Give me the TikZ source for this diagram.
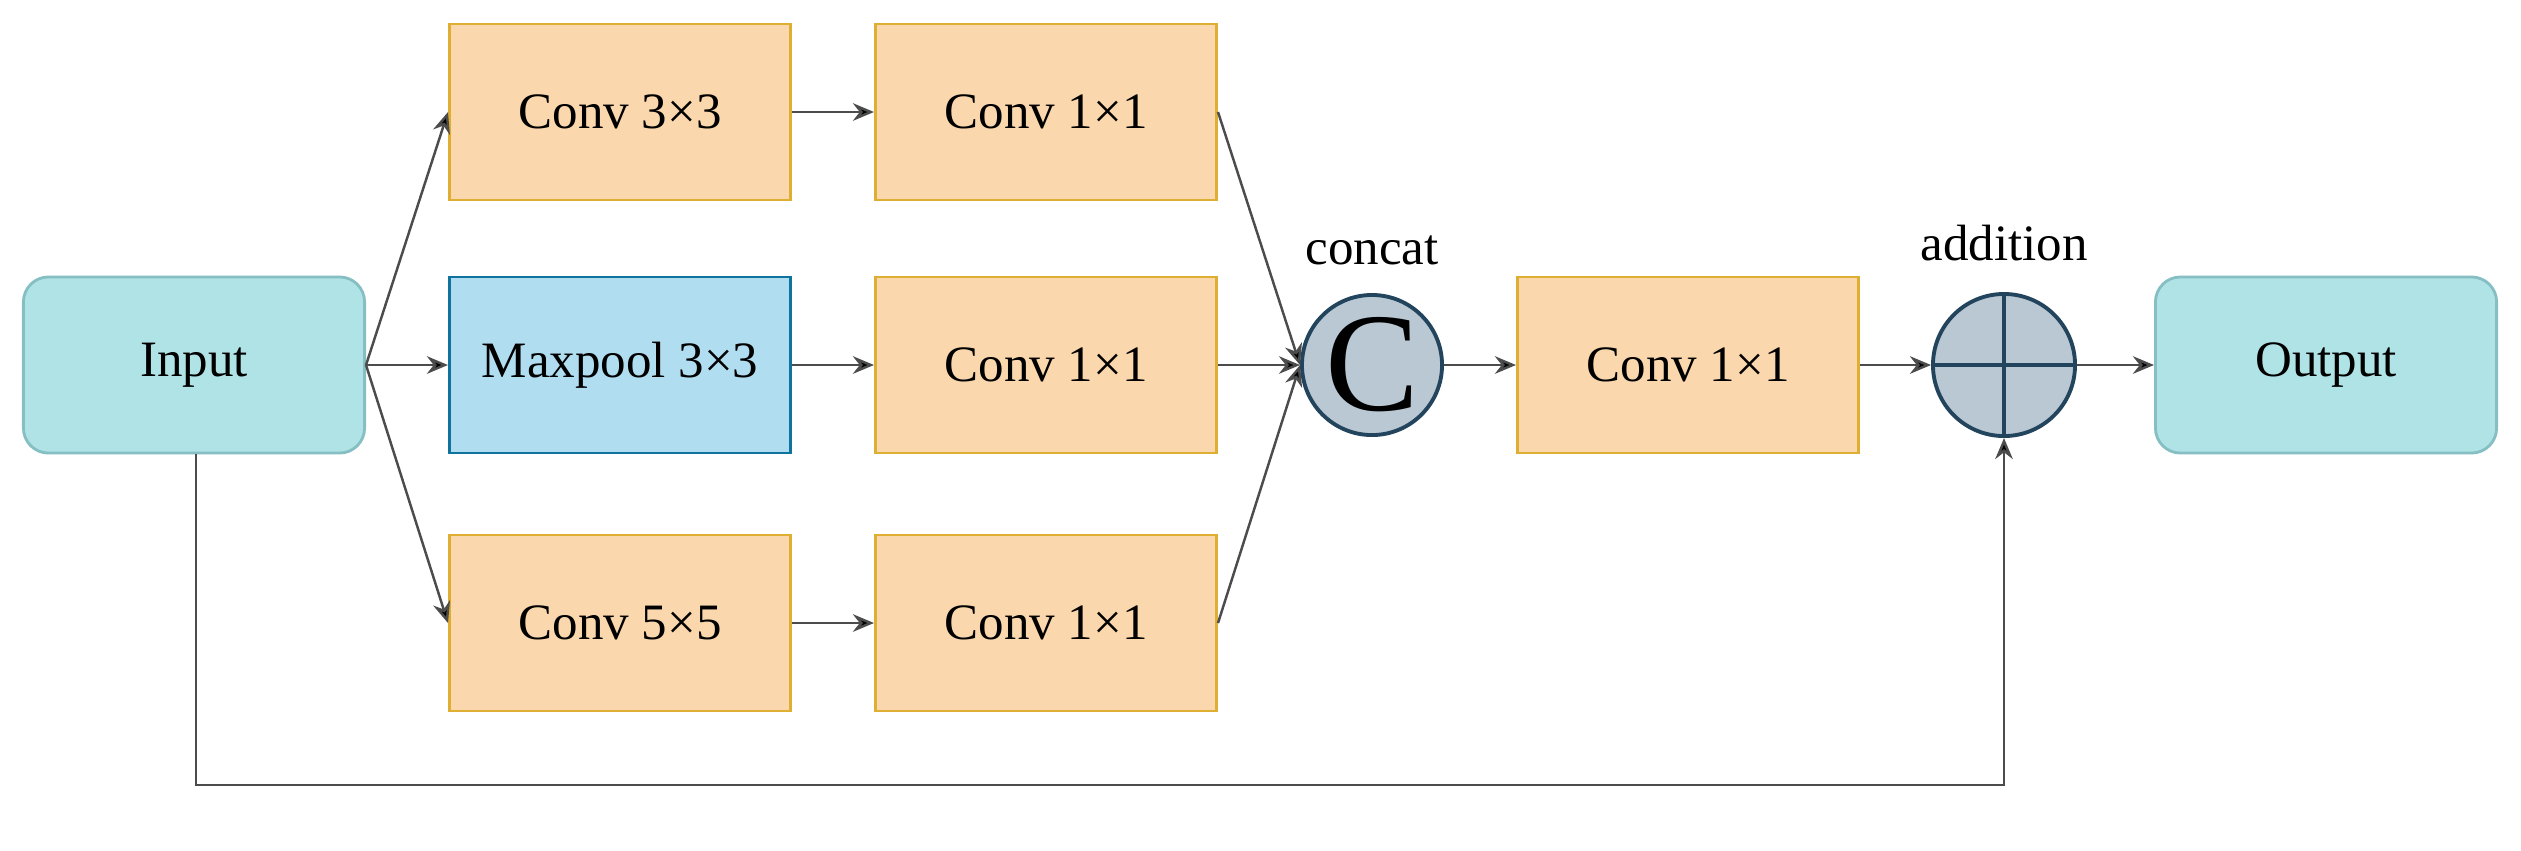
\documentclass[tikz,border=0pt]{standalone}
\usepackage{fontspec}
\setmainfont{Liberation Serif}
\usetikzlibrary{arrows.meta}
\definecolor{ofill}{HTML}{FAD7AC}\definecolor{odraw}{HTML}{D79B00}
\definecolor{bfill}{HTML}{B1DDF0}\definecolor{bdraw}{HTML}{10739E}
\definecolor{tfill}{HTML}{B0E3E6}\definecolor{tdraw}{HTML}{0E8088}
\definecolor{cfill}{HTML}{BAC8D3}\definecolor{cdraw}{HTML}{23445D}
\begin{document}
\begin{tikzpicture}[x=0.01cm,y=-0.01cm,
  font=\fontsize{14.5}{17}\selectfont,
  box/.style={draw=odraw!80,fill=ofill,line width=0.8pt,minimum width=3.41cm,minimum height=1.76cm,inner sep=0pt},
  pool/.style={box,draw=bdraw,fill=bfill},
  term/.style={box,draw=tdraw!50,fill=tfill,rounded corners=0.25cm},
  circ/.style={circle,draw=cdraw,fill=cfill,line width=1.1pt,minimum size=1.4cm,inner sep=0pt},
  arr/.style={draw=black!70,line width=0.7pt,-{Stealth[length=6pt,width=5pt,fill=black]}}]
\useasboundingbox (0,0) rectangle (2521,850);
\node[term] (in) at (194,365) {Input};
\node[box] (a1) at (620,112) {Conv 3×3};
\node[pool] (b1) at (620,365) {Maxpool 3×3};
\node[box] (c1) at (620,623) {Conv 5×5};
\node[box] (a2) at (1046,112) {Conv 1×1};
\node[box] (b2) at (1046,365) {Conv 1×1};
\node[box] (c2) at (1046,623) {Conv 1×1};
\node[circ] (cat) at (1372,365) {\fontsize{40}{40}\selectfont C};
\node (catl) at (1372,250) {concat};
\node[box] (d) at (1688,365) {Conv 1×1};
\node[circ,minimum size=1.42cm] (add) at (2004,365) {};
\draw[cdraw,line width=1.1pt] (add.north)--(add.south) (add.west)--(add.east);
\node (addl) at (2004,243) {addition};
\node[term] (out) at (2326,365) {Output};
\coordinate (s1) at (196,785);
\coordinate (s2) at (2004,785);
\draw[arr] (in.east) -- (a1.west);
\draw[arr] (in.east) -- (b1.west);
\draw[arr] (in.east) -- (c1.west);
\draw[arr] (a1) -- (a2);
\draw[arr] (b1) -- (b2);
\draw[arr] (c1) -- (c2);
\draw[arr] (a2.east) -- (cat.west);
\draw[arr] (b2.east) -- (cat.west);
\draw[arr] (c2.east) -- (cat.west);
\draw[arr] (cat) -- (d);
\draw[arr] (d) -- (add);
\draw[arr] (add) -- (out);
\draw[arr] (in.south -| s1) -- (s1) -- (s2) -- (add.south);
\end{tikzpicture}
\end{document}
